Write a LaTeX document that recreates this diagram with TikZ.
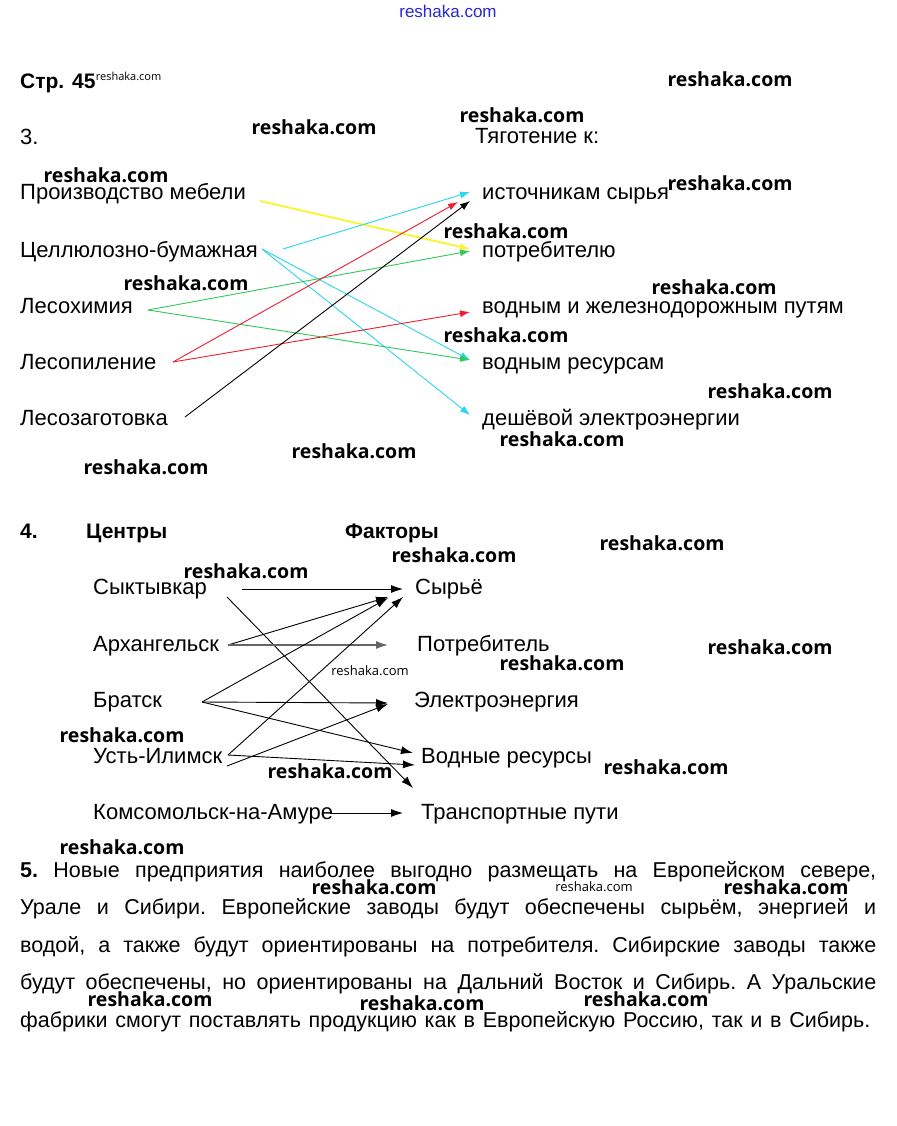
\documentclass[tikz,border=0pt]{standalone}
\usepackage{fontspec}
\setmainfont{Liberation Sans}
\newfontfamily\wmfont{Open Sans}
\usetikzlibrary{arrows.meta,calc}
\definecolor{cyA}{RGB}{40,215,235}
\definecolor{grA}{RGB}{50,200,90}
\definecolor{rdA}{RGB}{235,30,50}
\definecolor{ylA}{RGB}{250,245,40}
\definecolor{blA}{RGB}{40,40,210}
\definecolor{gyA}{RGB}{100,100,100}
\newcommand\txtsz{\fontsize{22}{26}\selectfont}
\newcommand\parsz{\fontsize{21.5}{26}\selectfont}
\tikzset{
  lbl/.style={anchor=base west, inner sep=0pt, font=\txtsz},
  hdr/.style={anchor=base west, inner sep=0pt, font=\fontsize{21}{25}\selectfont\bfseries},
  wm/.style={inner sep=0pt, font=\wmfont\bfseries\fontsize{19.5}{19.5}\selectfont},
  wms/.style={inner sep=0pt, font=\wmfont\fontsize{13}{13}\selectfont},
  arr3/.style={-{Latex[length=10pt,width=7pt]}, line width=0.9pt},
  arr4/.style={-{Latex[length=12pt,width=8pt]}, line width=0.9pt, black},
  pline/.style={anchor=base west, inner sep=0pt, font=\parsz\frenchspacing}
}
\begin{document}
\begin{tikzpicture}[x=1pt,y=-1pt]
\useasboundingbox[fill=white] (0,0) rectangle (896,1126);

% top
\node[inner sep=0pt, text=blA, font=\fontsize{17}{17}\selectfont] (top) at (448,11) {reshaka.com};
\node[hdr] (str) at (20,89) {Стр. 45};
\node[inner sep=0pt, anchor=base west, font=\wmfont\fontsize{11}{11}\selectfont] (strwm) at (str.base east) [yshift=8pt] {reshaka.com};

% section 3
\node[lbl] (n3) at (20,145) {3.};
\node[lbl] (tyag) at (475,144) {Тяготение к:};
\node[lbl] (L1) at (20,200) {Производство мебели};
\node[lbl] (L2) at (20,257) {Целлюлозно-бумажная};
\node[lbl] (L3) at (20,313) {Лесохимия};
\node[lbl] (L4) at (20,369) {Лесопиление};
\node[lbl] (L5) at (20,425) {Лесозаготовка};
\node[lbl] (R1) at (482,200) {источникам сырья};
\node[lbl] (R2) at (482,257) {потребителю};
\node[lbl] (R3) at (482,313) {водным и железнодорожным путям};
\node[lbl] (R4) at (482,369) {водным ресурсам};
\node[lbl] (R5) at (482,425) {дешёвой электроэнергии};

\draw[arr3, ylA, line width=1.8pt] ([shift={(240,1)}]L1.base west) -- ([shift={(-12,-8)}]R2.base west);
\draw[arr3, cyA] ([shift={(263,-8)}]L2.base west) -- ([shift={(-12,-8)}]R1.base west);
\draw[arr3, cyA] ([shift={(242,-8)}]L2.base west) -- ([shift={(-12,-9)}]R4.base west);
\draw[arr3, cyA] ([shift={(242,-8)}]L2.base west) -- ([shift={(-12,-10)}]R5.base west);
\draw[arr3, grA] ([shift={(128,-3)}]L3.base west) -- ([shift={(-12,-6)}]R2.base west);
\draw[arr3, grA] ([shift={(128,-3)}]L3.base west) -- ([shift={(-12,-9)}]R4.base west);
\draw[arr3, rdA] ([shift={(153,-7)}]L4.base west) -- ([shift={(-24,2)}]R1.base west);
\draw[arr3, rdA] ([shift={(153,-7)}]L4.base west) -- ([shift={(-12,-1)}]R3.base west);
\draw[arr3, black] ([shift={(165,-8)}]L5.base west) -- ([shift={(-12,1)}]R1.base west);

% section 4
\node[hdr] (n4) at (20,538) {4.};
\node[hdr] (cent) at (86,538) {Центры};
\node[hdr] (fakt) at (345,538) {Факторы};
\node[lbl] (C1) at (93,594) {Сыктывкар};
\node[lbl] (C2) at (93,651) {Архангельск};
\node[lbl] (C3) at (93,707) {Братск};
\node[lbl] (C4) at (93,763) {Усть-Илимск};
\node[lbl] (C5) at (93,819) {Комсомольск-на-Амуре};
\node[lbl] (F1) at (415,594) {Сырьё};
\node[lbl] (F2) at (417,651) {Потребитель};
\node[lbl] (F3) at (414,707) {Электроэнергия};
\node[lbl] (F4) at (421,763) {Водные ресурсы};
\node[lbl] (F5) at (421,819) {Транспортные пути};

\draw[arr4] ([shift={(149,-5)}]C1.base west) -- ([shift={(-12,-5)}]F1.base west);
\draw[arr4] ([shift={(134,3)}]C1.base west) -- ([shift={(-8,-31)}]F5.base west);
\draw[arr4] ([shift={(135,-6)}]C2.base west) -- ([shift={(-27,3)}]F1.base west);
\draw[arr4, gyA, line width=1.5pt] ([shift={(135,-6)}]C2.base west) -- ([shift={(-29,-6)}]F2.base west);
\draw[arr4] ([shift={(109,-5)}]C3.base west) -- ([shift={(-27,4)}]F1.base west);
\draw[arr4] ([shift={(109,-5)}]C3.base west) -- ([shift={(-26,-4)}]F3.base west);
\draw[arr4] ([shift={(109,-5)}]C3.base west) -- ([shift={(-8,-10)}]F4.base west);
\draw[arr4] ([shift={(135,-8)}]C4.base west) -- ([shift={(-12,3)}]F1.base west);
\draw[arr4] ([shift={(134,3)}]C4.base west) -- ([shift={(-26,-3)}]F3.base west);
\draw[arr4] ([shift={(135,-8)}]C4.base west) -- ([shift={(-6,2)}]F4.base west);
\draw[arr4] ([shift={(237,-6)}]C5.base west) -- ([shift={(-18,-6)}]F5.base west);

% section 5
\node[pline] (p1) at (20,877) {\makebox[856pt][s]{\textbf{5.} Новые предприятия наиболее выгодно размещать на Европейском севере,}};
\node[pline] (p2) at (20,914) {\makebox[856pt][s]{Урале и Сибири. Европейские заводы будут обеспечены сырьём, энергией и}};
\node[pline] (p3) at (20,952) {\makebox[856pt][s]{водой, а также будут ориентированы на потребителя. Сибирские заводы также}};
\node[pline] (p4) at (20,989) {\makebox[856pt][s]{будут обеспечены, но ориентированы на Дальний Восток и Сибирь. А Уральские}};
\node[pline] (p5) at (20,1027) {\makebox[850pt][s]{фабрики смогут поставлять продукцию как в Европейскую Россию, так и в Сибирь.}};

% watermarks
\node[wm] (w1) at (730,79) {reshaka.com};
\node[wm] (w2) at (314,127) {reshaka.com};
\node[wm] (w3) at (522,115) {reshaka.com};
\node[wm] (w4) at (106,175) {reshaka.com};
\node[wm] (w5) at (730,183) {reshaka.com};
\node[wm] (w6) at (506,231) {reshaka.com};
\node[wm] (w7) at (186,283) {reshaka.com};
\node[wm] (w8) at (714,287) {reshaka.com};
\node[wm] (w9) at (506,335) {reshaka.com};
\node[wm] (w10) at (770,391) {reshaka.com};
\node[wm] (w11) at (562,439) {reshaka.com};
\node[wm] (w12) at (354,451) {reshaka.com};
\node[wm] (w13) at (146,467) {reshaka.com};
\node[wm] (w14) at (454,555) {reshaka.com};
\node[wm] (w15) at (662,543) {reshaka.com};
\node[wm] (w16) at (246,571) {reshaka.com};
\node[wms] (w17) at (370,671) {reshaka.com};
\node[wm] (w18) at (562,663) {reshaka.com};
\node[wm] (w19) at (770,647) {reshaka.com};
\node[wm] (w20) at (122,735) {reshaka.com};
\node[wm] (w21) at (330,771) {reshaka.com};
\node[wm] (w22) at (666,767) {reshaka.com};
\node[wm] (w23) at (122,847) {reshaka.com};
\node[wm] (w24) at (374,887) {reshaka.com};
\node[wms] (w25) at (594,887) {reshaka.com};
\node[wm] (w26) at (786,887) {reshaka.com};
\node[wm] (w27) at (150,999) {reshaka.com};
\node[wm] (w28) at (422,1003) {reshaka.com};
\node[wm] (w29) at (646,999) {reshaka.com};
\end{tikzpicture}
\end{document}
